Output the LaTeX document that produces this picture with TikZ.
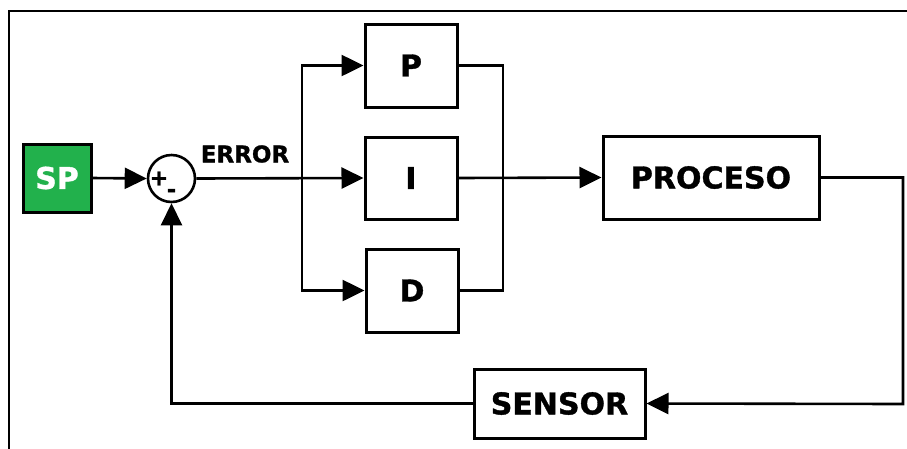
\documentclass[tikz,border=0pt]{standalone}
\usepackage{fontspec}
\setmainfont{DejaVu Sans}
\newfontfamily\heavy{DejaVu Sans Bold}[FakeBold=1.2]
\usetikzlibrary{arrows.meta}
\definecolor{spgreen}{RGB}{34,177,76}
\tikzset{
  blk/.style={draw=black, line width=3pt, fill=white, inner sep=0pt, font=\fontsize{30}{30}\selectfont\heavy},
  conn/.style={line width=2.6pt},
  arr/.style={conn, -{Triangle[length=22pt,width=21pt]}},
  lbl/.style={inner sep=0pt, font=\fontsize{23}{23}\selectfont\heavy},
  sgn/.style={inner sep=0pt, font=\fontsize{22}{22}\selectfont\heavy}
}
\begin{document}
\begin{tikzpicture}[x=1pt,y=-1pt]
\clip (0,0) rectangle (907,448);
\fill[white] (0,0) rectangle (907,448);
% frame
\draw[line width=2.4pt] (9,460) -- (9,11) -- (920,11);
% nodes
\node[blk, fill=spgreen, text=white, minimum width=68pt, minimum height=68pt] (sp) at (57,178) {SP};
\node[draw=black, line width=2.6pt, circle, minimum size=47pt, inner sep=0pt] (sum) at (171.5,178.5) {};
\node[sgn] (plus) at (159,178.5) {+};
\node[sgn] (minus) at (171.5,193) {-};
\node[lbl] (err) at (245,154) {ERROR};
\node[blk, minimum width=92pt, minimum height=83pt] (P) at (411,65.5) {P};
\node[blk, minimum width=92pt, minimum height=82pt] (I) at (411,178) {I};
\node[blk, minimum width=92pt, minimum height=83pt] (D) at (412,290.5) {D};
\node[blk, minimum width=216pt, minimum height=83pt] (proc) at (711,177.5) {PROCESO};
\node[blk, minimum width=171pt, minimum height=69pt] (sens) at (559.5,403.5) {SENSOR};
\coordinate (br) at (302,178);
\coordinate (mg) at (503,178);
\coordinate (rt) at (903,404);
% connectors
\draw[arr] (sp.east) -- (sum.west);
\draw[arr] (sum.east) -- (I.west);
\draw[arr] (br) |- (P.west);
\draw[arr] (br) |- (D.west);
\draw[conn] (P.east) -| (mg);
\draw[conn] (D.east) -| (mg);
\draw[arr] (I.east) -- (proc.west);
\draw[arr] (proc.east) -| (rt) -- (sens.east);
\draw[arr] (sens.west) -| (sum.south);
\end{tikzpicture}
\end{document}
